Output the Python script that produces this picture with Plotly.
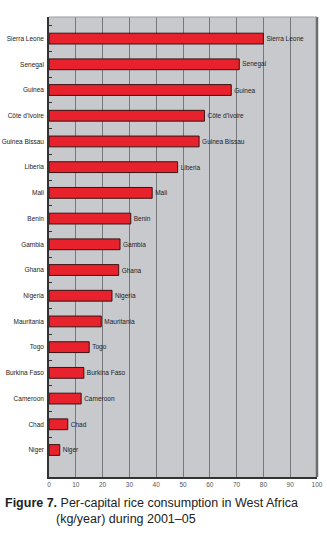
import plotly.graph_objects as go

countries = ["Sierra Leone", "Senegal", "Guinea", "Côte d'Ivoire", "Guinea Bissau", "Liberia",
             "Mali", "Benin", "Gambia", "Ghana", "Nigeria", "Mauritania", "Togo",
             "Burkina Faso", "Cameroon", "Chad", "Niger"]
consumption = [80, 71, 68, 58, 56, 48, 38.5, 30.5, 26.5, 26, 23.5, 19.5, 15, 13, 12, 7, 4]
x_ticks = [0, 10, 20, 30, 40, 50, 60, 70, 80, 90, 100]

fig = go.Figure()
fig.add_trace(go.Bar(
    x=consumption, y=countries, orientation="h",
    marker=dict(color="#e8222c", line=dict(color="#3a1212", width=1)),
    width=0.42,
    text=countries, textposition="outside",
    textfont=dict(family="Liberation Sans, Arial", size=6.5, color="#222222"),
    cliponaxis=False,
))

fig.update_layout(
    width=327, height=539,
    margin=dict(l=49, r=10, t=17, b=62),
    paper_bgcolor="white", plot_bgcolor="#c8c9cc",
    showlegend=False,
    font=dict(family="Liberation Sans, Arial", color="#333333"),
    bargap=0.58,
    xaxis=dict(range=[0, 100], tickvals=x_ticks, showgrid=True, gridcolor="#77787b",
               gridwidth=1.3, zeroline=False, showline=True, linecolor="#333333", linewidth=1.5,
               ticks="", tickfont=dict(size=6.5, color="#555555"), automargin=False),
    yaxis=dict(type="category", categoryorder="array", categoryarray=countries,
               range=[17.05, -0.84], showgrid=False, zeroline=False,
               showline=True, linecolor="#333333", linewidth=1.5,
               ticks="inside", tickson="boundaries", ticklen=3, tickcolor="#333333",
               tickfont=dict(size=6.5, color="#222222"), ticklabelstandoff=2, automargin=False),
    shapes=[dict(type="line", xref="paper", yref="paper", x0=1, x1=1, y0=0, y1=1,
                 line=dict(color="#6b6c6f", width=2.5)),
            dict(type="line", xref="paper", yref="paper", x0=0, x1=1, y0=1, y1=1,
                 line=dict(color="#9a9b9e", width=1))],
    annotations=[
        dict(xref="paper", yref="paper", x=-46/268, y=-35/460, xanchor="left", yanchor="bottom",
             showarrow=False, align="left",
             text="<b>Figure 7.</b> Per-capital rice consumption in West Africa",
             font=dict(family="Liberation Sans, Arial", size=12.5, color="#222222")),
        dict(xref="paper", yref="paper", x=5/268, y=-51/460, xanchor="left", yanchor="bottom",
             showarrow=False, align="left",
             text="(kg/year) during 2001\u201305",
             font=dict(family="Liberation Sans, Arial", size=12.5, color="#222222")),
    ],
)

fig.write_html("out.html")
